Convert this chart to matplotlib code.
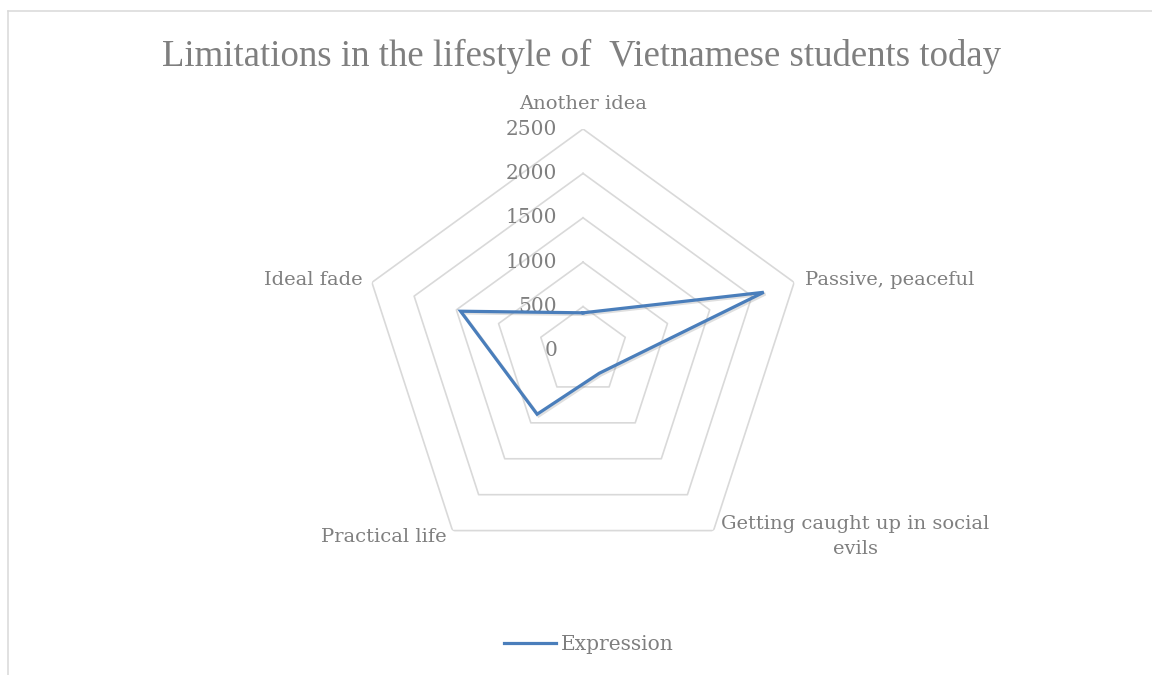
import matplotlib
matplotlib.use("Agg")
import matplotlib.pyplot as plt
import matplotlib.patheffects as pe
from matplotlib.lines import Line2D
import numpy as np

# data
categories = ["Another idea", "Passive, peaceful", "Getting caught up in social\nevils",
              "Practical life", "Ideal fade"]
expression = [430, 2140, 310, 880, 1450]
r_ticks = [0, 500, 1000, 1500, 2000, 2500]
series_name = "Expression"

GRID = "#d9d9d9"
TXT = "#7f7f7f"
BLUE = "#4a7ebb"
FONT = ["DejaVu Serif"]

fig = plt.figure(figsize=(11.52, 6.75), dpi=100)
ax = fig.add_axes([0.3134, 0.1511, 0.3854, 0.6578], projection="polar")
ax.set_theta_offset(np.pi / 2)
ax.set_theta_direction(-1)
ax.set_ylim(0, r_ticks[-1])
ax.grid(False)
ax.spines["polar"].set_visible(False)
ax.set_xticks([])
ax.set_yticks([])
ax.patch.set_alpha(0)

n = len(categories)
theta = np.linspace(0, 2 * np.pi, n, endpoint=False)
theta_c = np.append(theta, theta[0])

# pentagon gridlines
for r in r_ticks[1:]:
    ax.plot(theta_c, [r] * (n + 1), color=GRID, lw=1.2, zorder=1)

# radial tick labels, left of the top axis
for r in r_ticks:
    ax.annotate(str(r), xy=(0, r), xytext=(-18.5, 0), textcoords="offset points",
                ha="right", va="center", fontsize=14.5, color=TXT, family=FONT, zorder=2)

# category labels
offsets = [(0, 18, "center"), (8, 1.5, "left"), (102, -4.3, "center"),
           (-4, -4.3, "right"), (-6.5, 1.5, "right")]
for t, lab, (dx, dy, ha) in zip(theta, categories, offsets):
    ax.annotate(lab, xy=(t, r_ticks[-1]), xytext=(dx, dy), textcoords="offset points",
                ha=ha, va="center", multialignment="center", linespacing=1.55,
                fontsize=14, color=TXT, family=FONT, annotation_clip=False)

vals = expression + expression[:1]
ax.plot(theta_c, vals, color=BLUE, lw=2.3, zorder=3, solid_joinstyle="miter",
        path_effects=[pe.SimpleLineShadow(offset=(1.2, -1.2), alpha=0.25, shadow_color="gray"),
                      pe.Normal()])

fig.text(0.505, 0.917, "Limitations in the lifestyle of  Vietnamese students today",
         ha="center", va="center", fontsize=26.5, color=TXT, family=["Liberation Serif"])

handle = Line2D([], [], color=BLUE, lw=2.3)
leg = fig.legend([handle], [series_name], loc="center", bbox_to_anchor=(0.511, 1 - 645 / 675),
                 frameon=False, handlelength=2.6, handletextpad=0.25,
                 prop={"family": FONT, "size": 14.5})
for t in leg.get_texts():
    t.set_color(TXT)

# chart-area border (only top and left visible in the crop)
bx, by = 8 / 1152, 1 - 11 / 675
fig.add_artist(Line2D([bx, 1], [by, by], color=GRID, lw=1.1, transform=fig.transFigure))
fig.add_artist(Line2D([bx, bx], [0, by], color=GRID, lw=1.1, transform=fig.transFigure))

fig.savefig("out.png", dpi=100)
